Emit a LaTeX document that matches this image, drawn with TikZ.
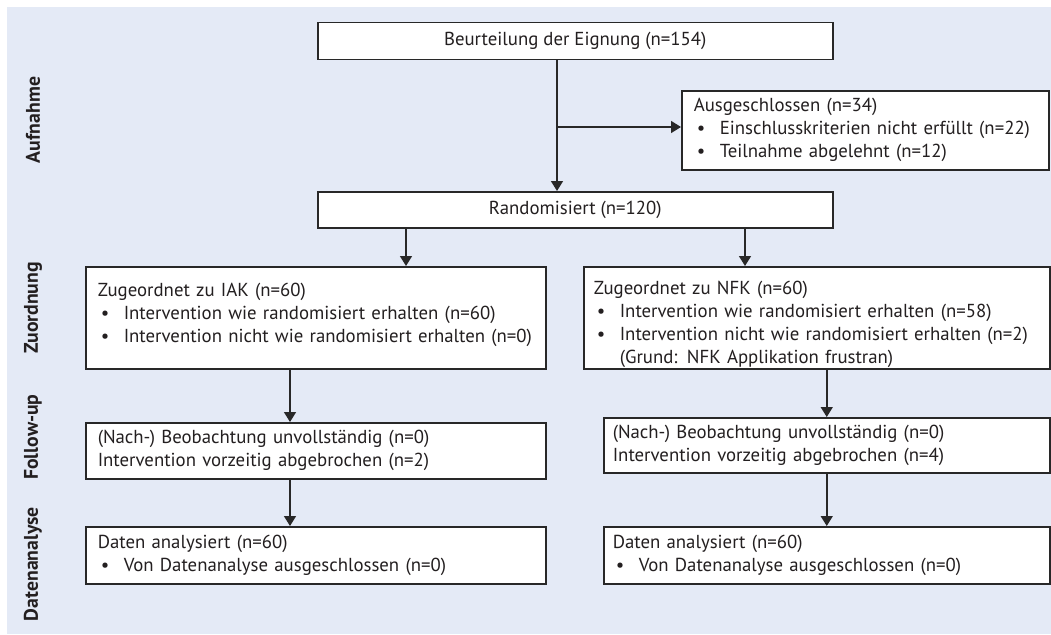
\documentclass[tikz,border=0pt]{standalone}
\usepackage{fontspec}
\setmainfont{PT Sans}
\usetikzlibrary{arrows.meta}
\definecolor{bgblue}{RGB}{228,234,246}
\definecolor{ink}{RGB}{35,31,32}
\definecolor{edge}{RGB}{40,40,40}
\newcommand{\bul}[1]{\mbox{\makebox[26pt][l]{\hspace{3pt}•}#1}}
\newcommand{\topstrut}{\rule{0pt}{26pt}}
\newlength{\calwd}
\newlength{\calbwd}
\begin{document}
\settowidth{\calwd}{\fontsize{10}{12}\selectfont Intervention nicht wie randomisiert erhalten (n=0)}%
\settowidth{\calbwd}{\bfseries\fontsize{10}{12}\selectfont Datenanalyse}%
\pgfmathsetmacro{\fs}{4020/\calwd}%
\pgfmathsetmacro{\fsb}{1140/\calbwd}%
\begin{tikzpicture}[x=1pt,y=-1pt,
  box/.style={draw=edge, line width=1.5pt, fill=white, rectangle, inner xsep=12pt, inner ysep=0pt,
    anchor=north west, align=left, text=ink, font=\fontsize{\fs}{23}\selectfont},
  cbox/.style={draw=edge, line width=1.5pt, fill=white, rectangle, inner sep=0pt,
    anchor=north west, align=center, text=ink, font=\fontsize{\fs}{23}\selectfont},
  arr/.style={draw=edge, line width=1.5pt, -{Triangle[length=10pt,width=12pt]}},
  side/.style={rotate=90, font=\bfseries\fontsize{\fsb}{22}\selectfont, text=ink, inner sep=0pt}]
\useasboundingbox (0,0) rectangle (1051,634);
\fill[bgblue] (7,7) rectangle (1051,634);

% side labels
\node[side] (lauf) at (33,120) {Aufnahme};
\node[side] (lzu) at (33,308) {Zuordnung};
\node[side] (lfol) at (33,437) {Follow-up};
\node[side] (ldat) at (33,564) {Datenanalyse};

% boxes
\node[cbox, minimum width=515pt, minimum height=37pt] (top) at (317,22) {Beurteilung der Eignung (n=154)};
\node[box, minimum width=367pt, minimum height=79pt, text width=343pt] (excl) at (681,90)
  {Ausgeschlossen (n=34)\\ \bul{Einschlusskriterien nicht erfüllt (n=22)}\\ \bul{Teilnahme abgelehnt (n=12)}};
\node[cbox, minimum width=515pt, minimum height=36pt] (rand) at (317,191) {Randomisiert (n=120)};

\node[box, minimum width=460pt, minimum height=102pt, text width=436pt] (iak) at (85,266)
  {\topstrut Zugeordnet zu IAK (n=60)\\ \bul{Intervention wie randomisiert erhalten (n=60)}\\ \bul{Intervention nicht wie randomisiert erhalten (n=0)}\\ \mbox{}};
\node[box, minimum width=466pt, minimum height=102pt, text width=446pt, inner xsep=10pt] (nfk) at (583,266)
  {\topstrut Zugeordnet zu NFK (n=60)\\ \bul{Intervention wie randomisiert erhalten (n=58)}\\ \bul{Intervention nicht wie randomisiert erhalten (n=2)}\\ \hspace*{26pt}(Grund: NFK Applikation frustran)};

\node[box, minimum width=460pt, minimum height=56pt, text width=436pt] (ful) at (85,422)
  {(Nach-) Beobachtung unvollständig (n=0)\\ Intervention vorzeitig abgebrochen (n=2)};
\node[box, minimum width=446pt, minimum height=55pt, text width=428pt, inner xsep=9pt] (fur) at (603,417)
  {(Nach-) Beobachtung unvollständig (n=0)\\ Intervention vorzeitig abgebrochen (n=4)};

\node[box, minimum width=460pt, minimum height=57pt, text width=436pt] (dal) at (85,526)
  {Daten analysiert (n=60)\\ \bul{Von Datenanalyse ausgeschlossen (n=0)}};
\node[box, minimum width=446pt, minimum height=57pt, text width=428pt, inner xsep=9pt] (dar) at (603,526)
  {Daten analysiert (n=60)\\ \bul{Von Datenanalyse ausgeschlossen (n=0)}};

% connectors
\coordinate (br) at (557,127);
\coordinate (xl) at (406,0);
\coordinate (xr) at (745,0);
\coordinate (xll) at (290,0);
\draw[arr] (top.south -| br) -- (rand.north -| br);
\draw[arr] (br) -- (excl.west |- br);
\draw[arr] (rand.south -| xl) -- (iak.north -| xl);
\draw[arr] (rand.south -| xr) -- (nfk.north -| xr);
\draw[arr] (iak.south -| xll) -- (ful.north -| xll);
\draw[arr] (ful.south -| xll) -- (dal.north -| xll);
\draw[arr] (nfk.south -| fur.north) -- (fur.north);
\draw[arr] (fur.south) -- (dar.north);
\end{tikzpicture}
\end{document}
